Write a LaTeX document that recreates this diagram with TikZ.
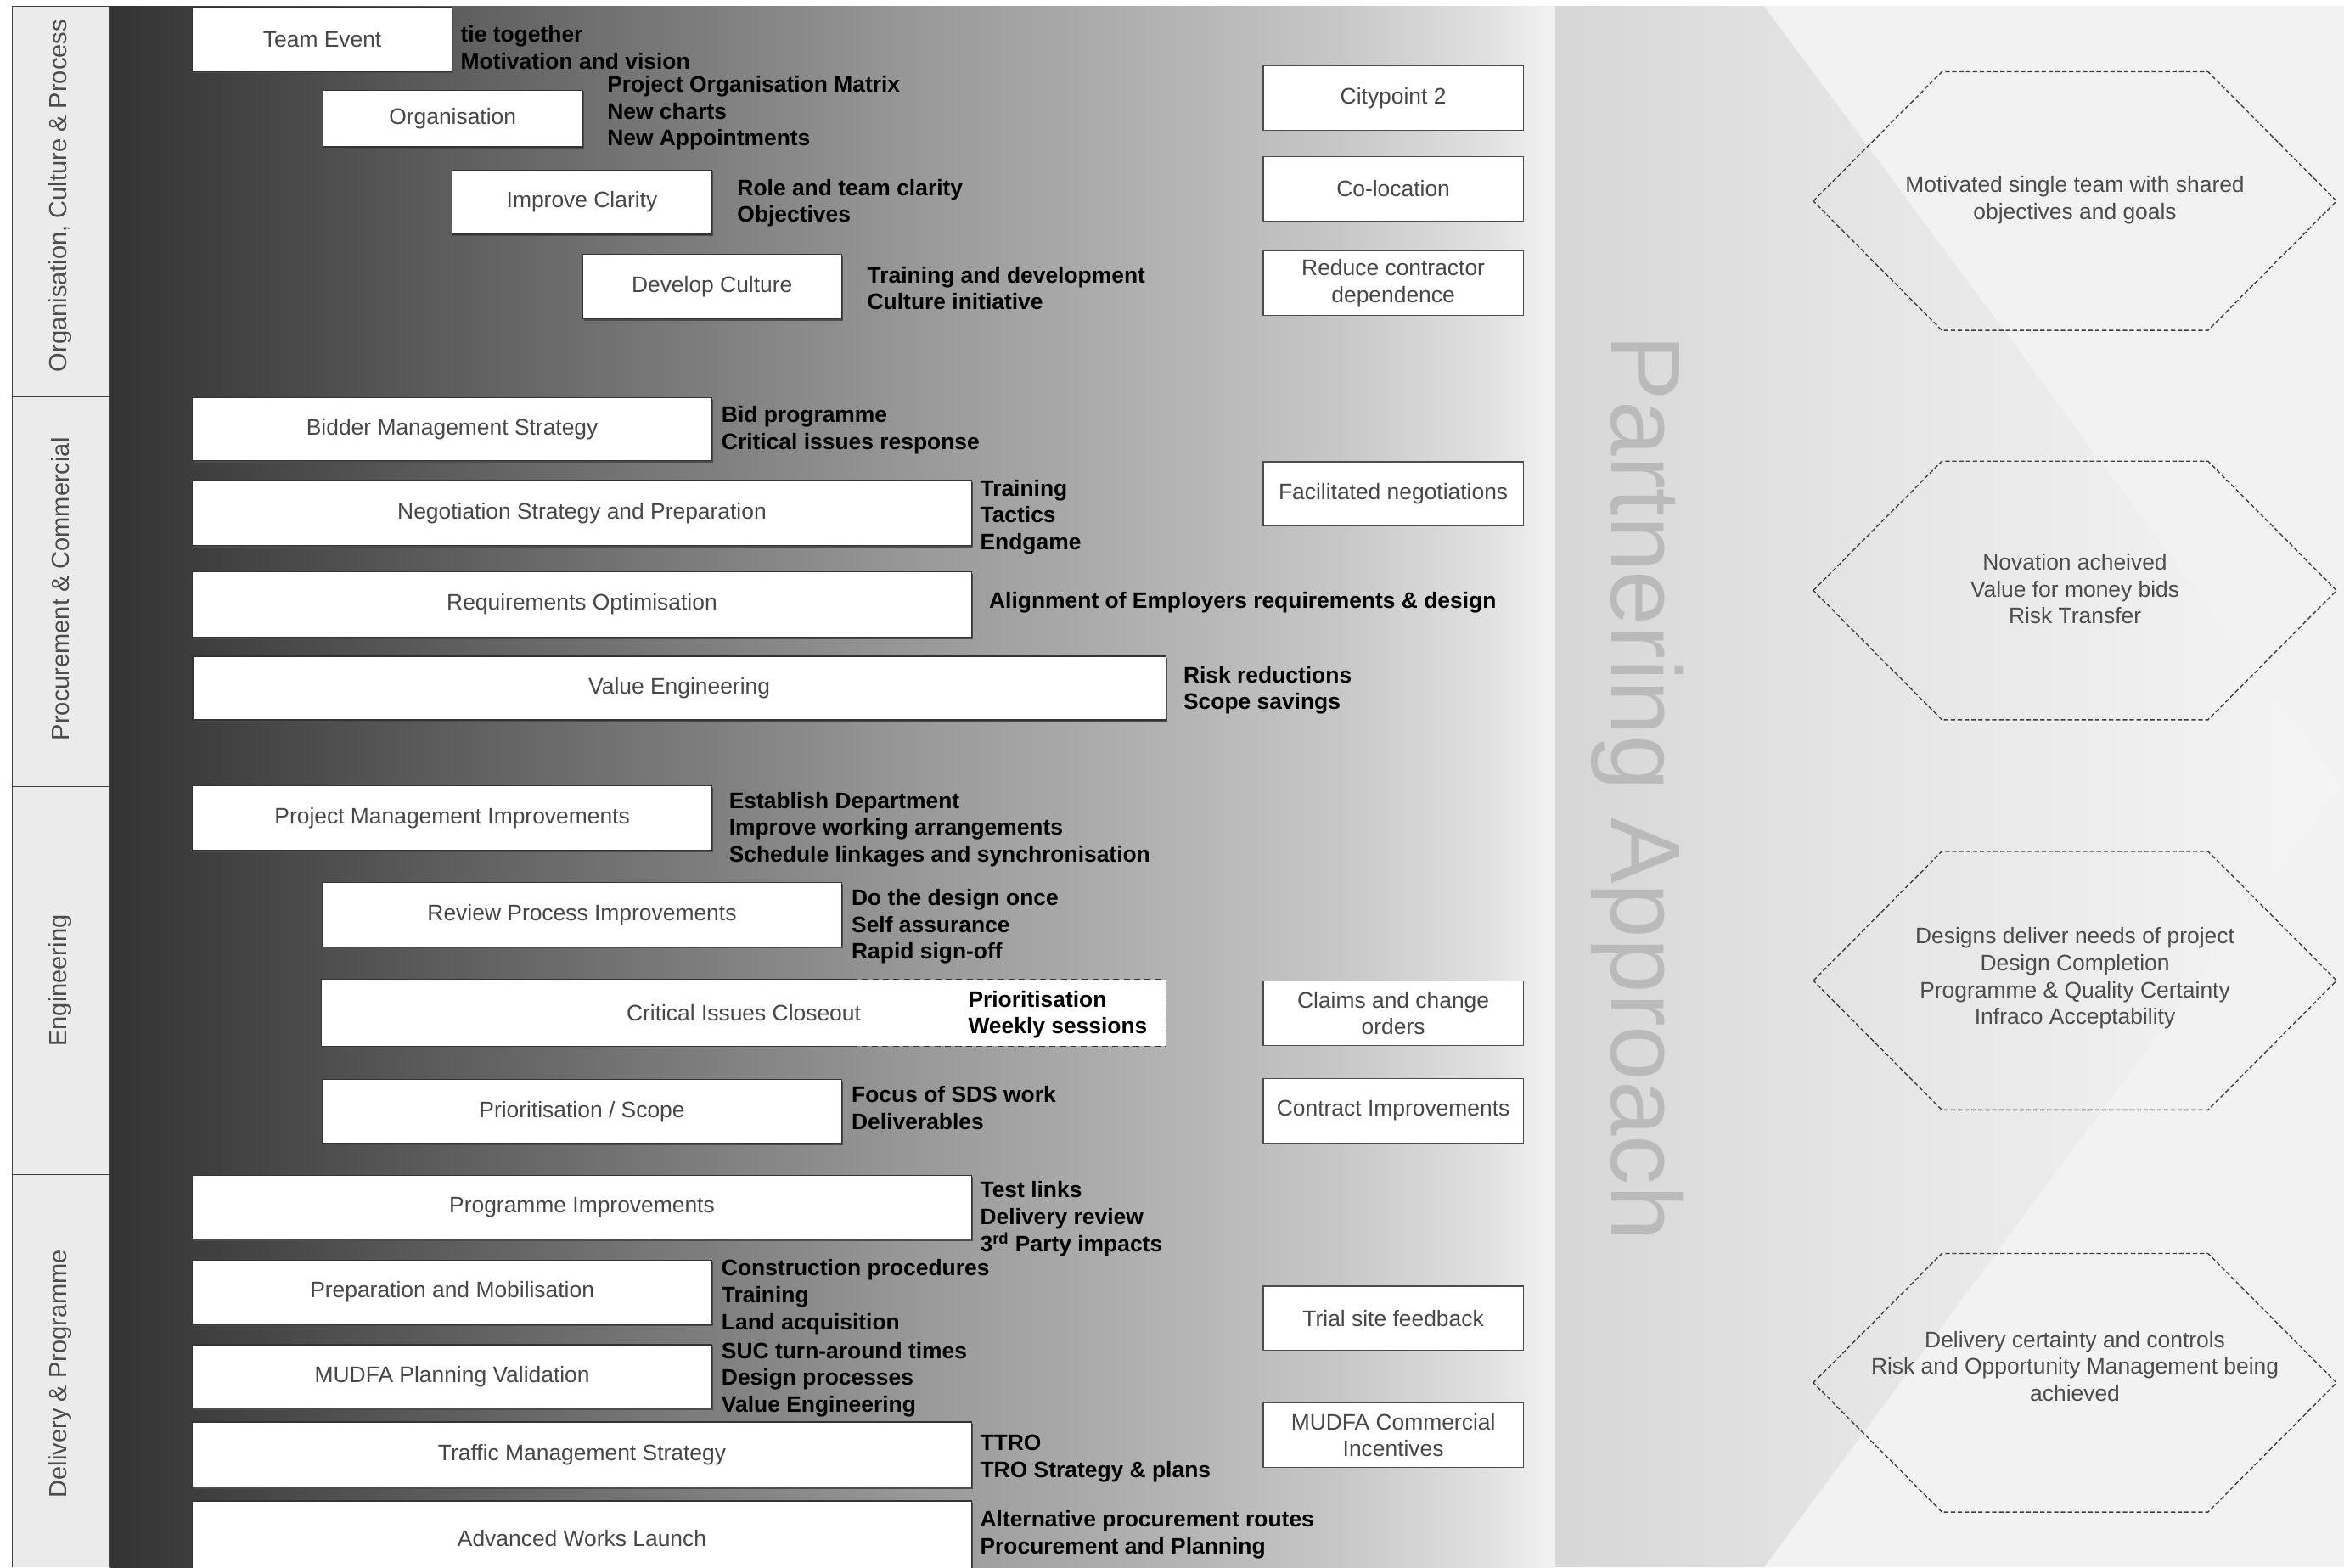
\documentclass[tikz,border=0pt]{standalone}
\usepackage{fontspec}
\setmainfont{Liberation Sans}
\usetikzlibrary{shadows}
\pgfdeclarehorizontalshading{bgshade}{100bp}{color(0bp)=(black!80); color(25bp)=(black!80); color(28bp)=(black!76); color(53bp)=(black!40); color(62.3bp)=(black!29); color(67.5bp)=(black!22); color(72.7bp)=(black!12); color(75bp)=(black!5); color(100bp)=(black!5)}
\pgfdeclarehorizontalshading{chevshade}{100bp}{color(0bp)=(black!16); color(25bp)=(black!16); color(45bp)=(black!10); color(75bp)=(black!4); color(100bp)=(black!4)}
\begin{document}
\begin{tikzpicture}[x=1pt,y=-1pt,
  box/.style={draw=black!80, line width=0.7pt, fill=white, text=black!72,
    font=\fontsize{15}{18}\selectfont, align=center, inner sep=1pt,
    general shadow={fill=black!70, shadow xshift=0.9pt, shadow yshift=-1.3pt}},
  rbox/.style={draw=black!70, line width=0.7pt, fill=white, text=black!72,
    font=\fontsize{15}{18}\selectfont, align=center, inner sep=1pt,
    minimum width=174, minimum height=43},
  plainbox/.style={fill=white, text=black!72, font=\fontsize{15}{18}\selectfont, align=center, inner sep=1pt},
  note/.style={anchor=north west, inner sep=0pt, align=left, text=black,
    font=\bfseries\fontsize{15}{18}\selectfont},
  cat/.style={rotate=90, text=black!70, font=\fontsize{16.5}{20}\selectfont},
  hexa/.style={draw=black!75, line width=0.8pt, dash pattern=on 3pt off 1.6pt},
  hextext/.style={align=center, text=black!70, font=\fontsize{15}{18}\selectfont, inner sep=0pt},
]
\useasboundingbox (0,0) rectangle (1568,1048.4);
\fill[white] (0,0) rectangle (1568,1048.4);
% backgrounds
\fill[black!5] (1040,4) rectangle (1568,1048.4);
\shade[shading=chevshade] (1040,4) -- (1180,4) -- (1566,526) -- (1180,1048.4) -- (1040,1048.4) -- cycle;
\shade[shading=bgshade] (73,4) rectangle (1040,1048.4);
\node[rotate=-90, text=black!27, font=\fontsize{66}{70}\selectfont, inner sep=0pt] (pa) at (1095,527) {Partnering Approach};
% category column
\fill[black!8] (8.5,4) rectangle (73,1048.4);
\draw[black!75, line width=0.6pt] (8.5,1048.4) -- (8.5,4) -- (73,4) -- (73,1048.4);
\draw[black!75, line width=0.6pt] (8.5,265.5) -- (73,265.5);
\draw[black!75, line width=0.6pt] (8.5,526) -- (73,526);
\draw[black!75, line width=0.6pt] (8.5,785.5) -- (73,785.5);
\node[cat] (c1) at (40.5,131) {Organisation, Culture \& Process};
\node[cat] (c2) at (40.5,394) {Procurement \& Commercial};
\node[cat] (c3) at (40.5,656) {Engineering};
\node[cat] (c4) at (40.5,919) {Delivery \& Programme};
% section 1
\node[box, minimum width=173.7, minimum height=43] (te) at (215.6,26.3) {Team Event};
\node[box, minimum width=173.5, minimum height=38] (org) at (302.8,79.3) {Organisation};
\node[box, minimum width=173.5, minimum height=43] (ic) at (389.3,135.2) {Improve Clarity};
\node[box, minimum width=173.5, minimum height=43] (dc) at (476.3,191.7) {Develop Culture};
\node[note] (n1) at (308,17.3) {tie together\\Motivation and vision};
\node[note] (n2) at (406,50.6) {Project Organisation Matrix\\New charts\\New Appointments};
\node[note] (n3) at (493,119.6) {Role and team clarity\\Objectives};
\node[note] (n4) at (580,178.2) {Training and development\\Culture initiative};
% section 2
\node[box, minimum width=347.5, minimum height=42] (bms) at (302.5,287) {Bidder Management Strategy};
\node[box, minimum width=521, minimum height=43.5] (nsp) at (389.3,343.2) {Negotiation Strategy and Preparation};
\node[box, minimum width=521, minimum height=43.5] (ro) at (389.3,404.3) {Requirements Optimisation};
\node[box, minimum width=651, minimum height=42.5] (ve) at (454.4,460.3) {Value Engineering};
\node[note] (n5) at (482.5,271.6) {Bid programme\\Critical issues response};
\node[note] (n6) at (655.5,320.6) {Training\\Tactics\\Endgame};
\node[note] (n7) at (661.5,395.6) {Alignment of Employers requirements \& design};
\node[note] (n8) at (791.5,445.6) {Risk reductions\\Scope savings};
% section 3
\node[box, minimum width=347.5, minimum height=43] (pmi) at (302.5,547.3) {Project Management Improvements};
\node[box, minimum width=347.5, minimum height=43] (rpi) at (389.3,611.8) {Review Process Improvements};
\node[plainbox, minimum width=564.5, minimum height=44.5] (cic) at (497.5,677.6) {Critical Issues Closeout};
\draw[black!80, line width=0.7pt, dash pattern=on 4pt off 3pt] (cic.north west) rectangle (cic.south east);
\draw[black!80, line width=0.7pt] ([xshift=357pt]cic.north west) -- (cic.north west) -- (cic.south west) -- ([xshift=357pt]cic.south west);
\node[box, minimum width=347.5, minimum height=43] (ps) at (389.3,743.5) {Prioritisation / Scope};
\node[note] (n9) at (487.5,529.6) {Establish Department\\Improve working arrangements\\Schedule linkages and synchronisation};
\node[note] (n10) at (569.5,594.6) {Do the design once\\Self assurance\\Rapid sign-off};
\node[note] (n11) at (647.5,662.6) {Prioritisation\\Weekly sessions};
\node[note] (n12) at (569.5,726.6) {Focus of SDS work\\Deliverables};
% section 4
\node[box, minimum width=521, minimum height=42.5] (pi) at (389.3,807.6) {Programme Improvements};
\node[box, minimum width=347.5, minimum height=43] (pm) at (302.5,864.4) {Preparation and Mobilisation};
\node[box, minimum width=347.5, minimum height=42.5] (mpv) at (302.5,920.8) {MUDFA Planning Validation};
\node[box, minimum width=521, minimum height=43.5] (tms) at (389.3,973) {Traffic Management Strategy};
\node[box, minimum width=521, minimum height=50] (awl) at (389.3,1029) {Advanced Works Launch};
\node[note] (n13) at (655.5,790.2) {Test links\\Delivery review\\3\textsuperscript{rd} Party impacts};
\node[note] (n14) at (482.5,842.4) {Construction procedures\\Training\\Land acquisition};
\node[note] (n15) at (482.5,897.6) {SUC turn-around times\\Design processes\\Value Engineering};
\node[note] (n16) at (655.5,959.6) {TTRO\\TRO Strategy \& plans};
\node[note] (n17) at (655.5,1010.4) {Alternative procurement routes\\Procurement and Planning};
% right column boxes
\node[rbox] (cp2) at (932,65.5) {Citypoint 2};
\node[rbox] (col) at (932,126.3) {Co-location};
\node[rbox] (rcd) at (932,189.3) {Reduce contractor\\dependence};
\node[rbox] (fn) at (932,330.5) {Facilitated negotiations};
\node[rbox] (cco) at (932,677.8) {Claims and change\\orders};
\node[rbox] (ci) at (932,743) {Contract Improvements};
\node[rbox] (tsf) at (932,881.9) {Trial site feedback};
\node[rbox] (mci) at (932,960) {MUDFA Commercial\\Incentives};
% hexagons
\draw[hexa] (1213,134.5) -- (1299,48) -- (1477,48) -- (1563,134.5) -- (1477,221) -- (1299,221) -- cycle;
\draw[hexa] (1213,395) -- (1299,308.5) -- (1477,308.5) -- (1563,395) -- (1477,481.5) -- (1299,481.5) -- cycle;
\draw[hexa] (1213,656) -- (1299,569.5) -- (1477,569.5) -- (1563,656) -- (1477,742.5) -- (1299,742.5) -- cycle;
\draw[hexa] (1213,925) -- (1299,838.5) -- (1477,838.5) -- (1563,925) -- (1477,1011.5) -- (1299,1011.5) -- cycle;
\node[hextext] (h1) at (1388,134) {Motivated single team with shared\\objectives and goals};
\node[hextext] (h2) at (1388,394) {Novation acheived\\Value for money bids\\Risk Transfer};
\node[hextext] (h3) at (1388,654.5) {Designs deliver needs of project\\Design Completion\\Programme \& Quality Certainty\\Infraco Acceptability};
\node[hextext] (h4) at (1388,914) {Delivery certainty and controls\\Risk and Opportunity Management being\\achieved};
\end{tikzpicture}
\end{document}
